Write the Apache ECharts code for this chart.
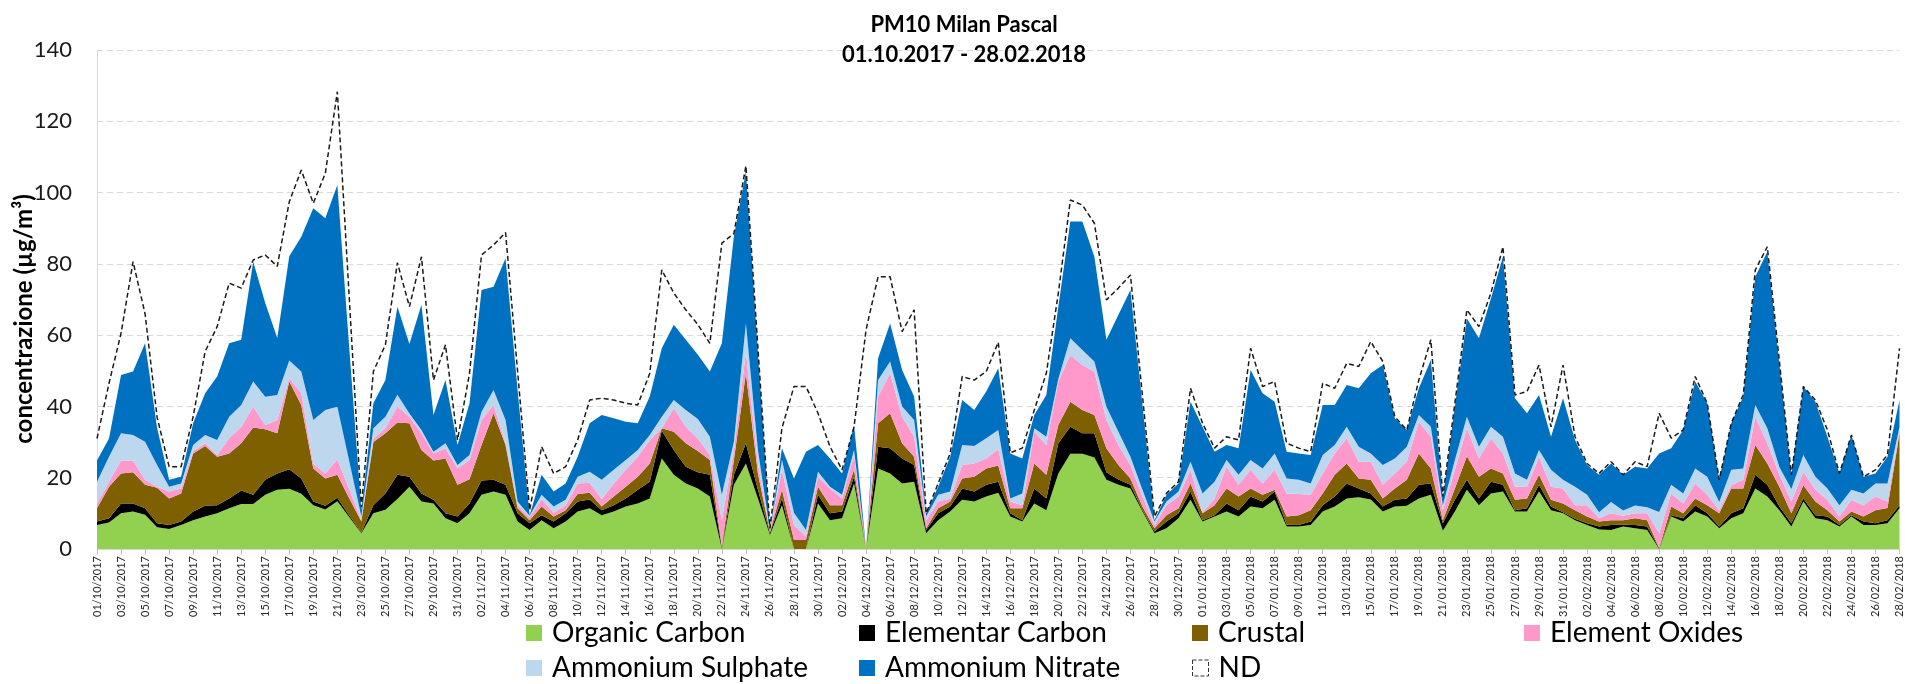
<!DOCTYPE html>
<html>
<head>
<meta charset="utf-8">
<script src="https://cdn.jsdelivr.net/npm/echarts@6/dist/echarts.min.js"></script>
<style>
html, body { margin: 0; padding: 0; background: #fff; }
#grafico { width: 1905px; height: 684px; }
</style>
</head>
<body>
<div id="grafico"></div>
<script>
// giorni (01/10/2017 - 28/02/2018)
const fechas = [
  '01/10/2017','02/10/2017','03/10/2017','04/10/2017','05/10/2017','06/10/2017','07/10/2017','08/10/2017','09/10/2017','10/10/2017',
  '11/10/2017','12/10/2017','13/10/2017','14/10/2017','15/10/2017','16/10/2017','17/10/2017','18/10/2017','19/10/2017','20/10/2017',
  '21/10/2017','22/10/2017','23/10/2017','24/10/2017','25/10/2017','26/10/2017','27/10/2017','28/10/2017','29/10/2017','30/10/2017','31/10/2017',
  '01/11/2017','02/11/2017','03/11/2017','04/11/2017','05/11/2017','06/11/2017','07/11/2017','08/11/2017','09/11/2017','10/11/2017',
  '11/11/2017','12/11/2017','13/11/2017','14/11/2017','15/11/2017','16/11/2017','17/11/2017','18/11/2017','19/11/2017','20/11/2017',
  '21/11/2017','22/11/2017','23/11/2017','24/11/2017','25/11/2017','26/11/2017','27/11/2017','28/11/2017','29/11/2017','30/11/2017',
  '01/12/2017','02/12/2017','03/12/2017','04/12/2017','05/12/2017','06/12/2017','07/12/2017','08/12/2017','09/12/2017','10/12/2017',
  '11/12/2017','12/12/2017','13/12/2017','14/12/2017','15/12/2017','16/12/2017','17/12/2017','18/12/2017','19/12/2017','20/12/2017',
  '21/12/2017','22/12/2017','23/12/2017','24/12/2017','25/12/2017','26/12/2017','27/12/2017','28/12/2017','29/12/2017','30/12/2017','31/12/2017',
  '01/01/2018','02/01/2018','03/01/2018','04/01/2018','05/01/2018','06/01/2018','07/01/2018','08/01/2018','09/01/2018','10/01/2018',
  '11/01/2018','12/01/2018','13/01/2018','14/01/2018','15/01/2018','16/01/2018','17/01/2018','18/01/2018','19/01/2018','20/01/2018',
  '21/01/2018','22/01/2018','23/01/2018','24/01/2018','25/01/2018','26/01/2018','27/01/2018','28/01/2018','29/01/2018','30/01/2018','31/01/2018',
  '01/02/2018','02/02/2018','03/02/2018','04/02/2018','05/02/2018','06/02/2018','07/02/2018','08/02/2018','09/02/2018','10/02/2018',
  '11/02/2018','12/02/2018','13/02/2018','14/02/2018','15/02/2018','16/02/2018','17/02/2018','18/02/2018','19/02/2018','20/02/2018',
  '21/02/2018','22/02/2018','23/02/2018','24/02/2018','25/02/2018','26/02/2018','27/02/2018','28/02/2018'
]

const organicCarbon = [
  6.7, 7.4, 10, 10.5, 9.6, 6.1, 5.6, 6.7, 8.1, 9.1, 10, 11.4, 12.6, 12.6, 15.2, 16.6, 16.9, 15.5, 12.3, 11.1, 13.4, 8.9, 4.4, 10, 11, 14,
  17.5, 13.3, 12.8, 8.6, 7.2, 10, 15.2, 16.1, 15.2, 7.7, 5.3, 8.1, 5.8, 7.7, 10.5, 11.4, 9.5, 10.5, 11.9, 12.8, 14.2, 25.4, 20.8, 18.4, 17,
  14.7, 0, 18, 24, 14.2, 3.9, 12.3, 0, 0, 12.8, 8.1, 8.6, 18.4, 0, 22.6, 21.2, 18.4, 18.9, 4.4, 8.1, 10.5, 13.8, 13.3, 14.7, 15.8,
  9.1, 7.7, 12.8, 10.9, 21.2, 26.7, 26.7, 25.7, 19.4, 18, 17, 10.5, 4.4, 5.8, 8.6, 13.8, 7.7, 9.1, 10.5, 9.1, 11.9, 11.4, 13.8, 6.3, 6.3,
  6.7, 10.5, 11.9, 14.2, 14.5, 13.9, 10.5, 11.9, 12.1, 14.2, 15.2, 5.1, 10.5, 16.6, 12.3, 15.6, 16.1, 10.5, 10.5, 16.1, 10.9, 10, 8.1, 6.7, 5.5,
  5.3, 6.3, 5.8, 5.3, 0, 9.1, 7.7, 10.5, 9.1, 5.8, 8.6, 10, 17, 14.7, 10.9, 6.3, 13.3, 8.6, 8.1, 6.3, 9.1, 6.7, 6.7, 7.2, 11.4
]
const elementarCarbon = [
  1.0, 1.2, 2.8, 2.3, 1.8, 1.1, 1.1, 1.0, 2.4, 3.0, 2.3, 2.8, 3.8, 2.6, 4.2, 4.6, 5.5, 4.3, 1.0, 1.0, 1.0, 0.5, 0.2, 2.3, 4.6, 6.8,
  2.8, 2.3, 1.0, 1.4, 1.9, 2.8, 4.0, 3.3, 2.8, 2.3, 1.9, 1.4, 1.9, 2.3, 2.8, 2.5, 1.4, 1.8, 2.3, 3.8, 4.7, 7.8, 7.0, 4.7, 4.5,
  6.1, 0.2, 2.8, 5.7, 2.4, 0.5, 1.9, 0, 0, 2.4, 1.9, 1.9, 1.9, 0, 6.1, 7.1, 7.0, 4.7, 0.9, 1.9, 1.4, 3.2, 2.8, 3.3, 3.1,
  0.9, 0.4, 4.2, 3.3, 8.5, 7.6, 5.8, 6.8, 2.1, 1.5, 1.0, 0.4, 0.5, 1.9, 1.4, 2.3, 0.4, 0.4, 2.3, 1.8, 2.8, 1.9, 2.3, 0.5, 0.4,
  1.0, 1.8, 2.8, 4.2, 2.5, 1.7, 1.4, 1.9, 2.1, 3.8, 3.2, 2.1, 3.3, 2.8, 1.9, 3.3, 1.9, 0.4, 0.9, 1.9, 1.0, 0.3, 0.4, 0.5, 0.8,
  1.4, 0.5, 0.9, 1.0, 0.2, 0.4, 0.9, 1.8, 0.9, 0.5, 1.4, 1.4, 3.8, 3.3, 1.0, 0.9, 0.9, 0.9, 1.0, 0.4, 0.4, 1.0, 0.5, 0.9, 0.9
]
const crustal = [
  3.7, 8.9, 8.4, 8.7, 6.6, 10.0, 7.5, 7.9, 16.3, 16.8, 13.6, 12.6, 13.3, 18.9, 14.2, 11.3, 24.6, 20.6, 9.3, 7.7, 6.4, 4.8, 3.1, 17.7, 16.9, 14.7,
  15.0, 12.2, 11.0, 15.4, 8.9, 6.8, 10.0, 18.7, 11.2, 1.4, 0.9, 2.4, 1.4, 0.9, 2.1, 1.9, 1.0, 2.4, 3.3, 3.7, 5.1, 0.7, 5.1, 6.6, 6.0,
  4.2, 0.5, 4.2, 19.6, 4.6, 0.4, 2.4, 2.5, 2.5, 2.3, 2.3, 1.8, 1.9, 0.2, 6.6, 9.8, 4.3, 2.3, 0.5, 1.4, 1.4, 2.8, 4.2, 4.6, 4.5,
  1.4, 3.3, 7.0, 6.6, 5.1, 7.0, 6.5, 5.1, 6.8, 4.1, 1.8, 1.0, 0.9, 1.8, 1.4, 2.3, 1.9, 2.8, 4.2, 3.8, 2.3, 1.9, 0.5, 2.3, 2.8,
  3.2, 3.3, 6.1, 5.6, 2.8, 3.8, 2.3, 3.2, 5.2, 8.8, 4.2, 0.9, 3.2, 6.6, 6.1, 3.7, 3.2, 2.9, 2.8, 2.8, 1.9, 2.5, 2.4, 1.9, 1.4,
  1.4, 1.3, 1.9, 1.8, 0.1, 2.4, 1.4, 1.9, 2.3, 3.7, 7.0, 5.6, 8.4, 6.0, 5.6, 2.8, 3.7, 3.8, 1.8, 1.0, 1.0, 1.4, 3.7, 3.4, 20.2
]
const elementOxides = [
  1.4, 1.4, 3.6, 3.3, 1.4, 0.3, 1.9, 1.4, 0.7, 0.8, 0.5, 4.3, 4.6, 5.8, 1.2, 3.7, 0.9, 3.3, 1.4, 1.4, 4.4, 2.5, 0.4, 1.0, 1.4, 4.5,
  1.8, 4.7, 2.0, 2.9, 4.6, 5.4, 7.0, 2.3, 0.5, 0.9, 0.8, 2.1, 1.1, 1.4, 3.0, 2.8, 2.1, 3.7, 4.7, 5.6, 6.6, 0, 6.6, 4.6, 3.5,
  1.4, 7.4, 2.8, 5.9, 2.8, 0.2, 5.6, 4.2, 1.0, 2.8, 4.7, 1.9, 4.2, 0, 7.5, 11.2, 7.4, 5.6, 2.3, 1.9, 0.9, 3.8, 3.7, 2.8, 4.6,
  1.9, 0.9, 8.9, 8.4, 12.2, 13.1, 12.6, 12.2, 7.9, 5.6, 3.8, 2.8, 0.9, 2.8, 3.3, 3.8, 0.3, 1.9, 6.1, 3.3, 5.2, 3.2, 5.6, 6.5, 5.9,
  4.3, 5.6, 6.0, 7.1, 4.7, 5.1, 3.8, 4.2, 5.1, 8.9, 8.9, 2.8, 5.2, 7.9, 5.1, 8.5, 5.6, 3.7, 3.3, 5.1, 3.7, 4.2, 1.4, 3.2, 1.0,
  1.9, 1.2, 1.4, 1.9, 4.1, 3.7, 2.8, 4.2, 2.9, 0.9, 0.9, 2.4, 7.9, 5.7, 3.3, 3.3, 3.8, 3.3, 2.9, 1.4, 3.3, 3.2, 3.8, 1.8, 0.9
]
const ammoniumSulphate = [
  6.1, 7.0, 7.7, 7.2, 10.7, 6.1, 1.4, 1.4, 1.7, 2.3, 4.2, 6.0, 6.1, 7.1, 7.9, 7.0, 5.0, 6.1, 12.2, 17.8, 14.7, 7.8, 1.0, 2.9, 3.2, 3.3,
  0.9, 0.9, 0.5, 1.4, 1.0, 1.4, 2.3, 4.2, 6.5, 1.0, 0.4, 1.2, 1.7, 1.5, 1.9, 3.1, 5.4, 3.8, 2.8, 1.9, 1.4, 3.2, 2.3, 4.7, 5.5,
  5.1, 7.1, 2.3, 8.1, 3.8, 0.2, 2.8, 3.5, 1.8, 1.4, 0.5, 1.0, 1.4, 0, 4.6, 3.3, 2.9, 4.7, 1.0, 1.9, 1.9, 5.6, 4.9, 5.7, 5.4,
  0.9, 3.3, 1.0, 2.3, 0.8, 4.7, 4.2, 2.8, 3.7, 3.7, 2.3, 1.9, 1.0, 1.0, 1.4, 2.3, 5.3, 4.7, 1.9, 2.8, 2.8, 4.2, 4.6, 4.2, 4.0,
  3.2, 5.2, 2.4, 3.2, 4.2, 2.3, 5.6, 4.2, 4.2, 1.9, 2.8, 1.4, 2.8, 3.2, 3.3, 3.2, 4.7, 3.7, 1.9, 1.9, 4.7, 2.4, 5.2, 2.9, 1.6,
  3.2, 1.5, 2.2, 1.7, 6.0, 2.4, 2.8, 4.2, 5.1, 2.3, 4.3, 3.2, 3.3, 4.2, 2.2, 3.5, 4.7, 3.7, 3.2, 3.2, 2.8, 3.3, 3.7, 5.1, 0.9
]
const ammoniumNitrate = [
  5.9, 5.1, 16.3, 17.8, 27.6, 10.4, 1.9, 1.9, 6.1, 11.7, 17.8, 20.6, 18.3, 33.6, 26.3, 16.0, 29.2, 37.8, 59.4, 53.8, 62.2, 31.5, 1.8, 7.0, 10.3, 24.7,
  19.5, 35.1, 10.3, 17.7, 5.6, 14.5, 34.2, 29.0, 45.4, 31.3, 0.2, 5.6, 4.2, 4.6, 5.6, 13.6, 18.2, 14.5, 10.7, 7.5, 10.8, 19.2, 21.1, 19.7, 18.0,
  18.3, 42.5, 57.6, 42.6, 27.4, 0.3, 3.3, 9.6, 22.0, 7.5, 7.9, 6.0, 7.0, 0, 6.1, 10.7, 10.2, 6.6, 0.9, 2.3, 9.8, 12.6, 10.1, 13.1, 17.3,
  12.6, 9.8, 3.7, 11.7, 20.2, 32.8, 36.1, 29.4, 18.8, 32.8, 46.8, 23.8, 0.4, 1.9, 2.3, 16.8, 18.7, 8.4, 4.2, 7.5, 25.2, 21.1, 14.5, 7.5, 7.4,
  8.0, 14.0, 11.2, 11.7, 16.4, 22.5, 28.0, 11.3, 4.7, 7.5, 18.7, 1.9, 15.0, 27.6, 30.4, 36.0, 50.5, 21.1, 18.7, 15.4, 9.3, 22.9, 13.1, 8.4, 10.5,
  10.8, 10.0, 10.9, 10.9, 16.4, 10.3, 17.8, 24.4, 20.6, 6.2, 13.1, 20.2, 36.0, 49.5, 28.9, 4.0, 19.2, 21.0, 14.5, 8.9, 15.4, 4.7, 2.8, 7.5, 7.5
]
// ND: PM10 misurato
const nd = [
  31, 46.5, 60.5, 80.6, 66, 37, 23.1, 23.1, 37.1, 55.4, 62.4, 74.6, 73.2, 81.1, 82.5, 79.3, 97.4, 106.3, 97, 105.4, 128.3, 70, 11.7, 49.8, 57.3, 80.3,
  68, 82, 47.4, 57.3, 30.6, 49.3, 82.5, 85.3, 88.8, 49.9, 10.9, 28.7, 21.2, 23.1, 30.6, 41.8, 42.3, 41.8, 40.9, 40.4, 49.3, 78.3, 71.8, 67.1, 63,
  57.7, 85.8, 88.5, 107.5, 56.4, 5.8, 33.9, 45.6, 45.6, 38.1, 28.7, 22.2, 34.3, 61.5, 76.4, 76.4, 61, 67.1, 10, 18.4, 26.8, 48.4, 47.4, 49.8, 58,
  27, 28.3, 39, 49.3, 71.8, 97.9, 96.5, 91.4, 69.9, 73.2, 76.9, 43, 9.1, 15.6, 18.9, 45.1, 35.3, 28.3, 31.5, 30.6, 56.3, 45.6, 47, 29.7, 28.3,
  27.3, 46.5, 45.1, 52.1, 51.2, 58.2, 52.6, 37.1, 33.4, 47.4, 58.7, 14.7, 40.9, 67.1, 62.4, 71.8, 84.8, 43.2, 44.2, 51.6, 34.3, 51.6, 31.5, 24, 21.2,
  24.5, 20.8, 24.5, 23.1, 38.1, 31.1, 33.4, 48.4, 40.9, 19.4, 35.3, 43.3, 78.3, 84.8, 52.8, 20.8, 45.6, 41.8, 33.4, 21.2, 32, 20.3, 22.2, 26.4, 56.3
]

const nombres = ['Organic Carbon', 'Elementar Carbon', 'Crustal', 'Element Oxides', 'Ammonium Sulphate', 'Ammonium Nitrate']
const colores = ['#92d050', '#000000', '#7f6000', '#ff99cc', '#bdd7ee', '#0070c0']
const valores = [organicCarbon, elementarCarbon, crustal, elementOxides, ammoniumSulphate, ammoniumNitrate]

const fuente = 'Lato, "Open Sans", sans-serif'

let myChart = echarts.init(document.getElementById('grafico'))

let series = nombres.map((nombre, i) => ({
  name: nombre,
  type: 'line',
  stack: 'total',
  data: valores[i],
  symbol: 'none',
  lineStyle: { width: 0 },
  itemStyle: { color: colores[i] },
  areaStyle: { color: colores[i], opacity: 1 }
}))
series.push({
  name: 'ND',
  type: 'line',
  data: nd,
  symbol: 'none',
  z: 5,
  itemStyle: { color: '#1a1a1a' },
  lineStyle: { color: '#1a1a1a', width: 1.5, type: [5, 3] }
})

// leyenda en dos filas, columnas fijas
const columnas = [521, 854, 1187, 1519]
const filas = [613, 648]
let leyendas = nombres.concat(['ND']).map((nombre, i) => ({
  data: nombre === 'ND'
    ? [{ name: 'ND', itemStyle: { color: '#fff', borderColor: '#333', borderWidth: 1, borderType: 'dashed' } }]
    : [nombre],
  left: columnas[i % 4],
  top: filas[Math.floor(i / 4)],
  icon: 'rect',
  itemWidth: 16,
  itemHeight: 16,
  selectedMode: false,
  textStyle: { fontFamily: fuente, fontSize: 28, color: '#000', lineHeight: 30, padding: [0, 0, 0, 5] }
}))

let option = {
  animation: false,
  backgroundColor: '#fff',
  title: {
    text: 'PM10 Milan Pascal\n01.10.2017 - 28.02.2018',
    left: 959,
    top: 5,
    textAlign: 'center',
    textStyle: { fontFamily: fuente, fontSize: 22, fontWeight: 'bold', color: '#000', lineHeight: 30 }
  },
  legend: leyendas,
  grid: { left: 97, right: 4, top: 50, bottom: 135 },
  xAxis: {
    type: 'category',
    data: fechas,
    boundaryGap: false,
    axisLine: { lineStyle: { color: '#d9d9d9' } },
    axisTick: { interval: 1, length: 5, lineStyle: { color: '#bfbfbf' } },
    axisLabel: {
      interval: 1,
      rotate: 90,
      margin: 7,
      fontFamily: fuente,
      fontSize: 11,
      color: '#262626'
    }
  },
  yAxis: {
    type: 'value',
    min: 0,
    max: 140,
    interval: 20,
    axisLine: { show: true, lineStyle: { color: '#d9d9d9' } },
    axisTick: { show: false },
    axisLabel: { margin: 25, fontFamily: fuente, fontSize: 22, color: '#1a1a1a' },
    splitLine: { lineStyle: { color: '#d9d9d9', type: [6, 4] } }
  },
  graphic: [{
    type: 'text',
    x: 24,
    y: 319,
    rotation: Math.PI / 2,
    style: {
      text: 'concentrazione (µg/m³)',
      fontFamily: fuente,
      fontSize: 24,
      fontWeight: 'bold',
      fill: '#000',
      align: 'center',
      verticalAlign: 'middle'
    }
  }],
  series: series
}

myChart.setOption(option)
</script>
</body>
</html>
